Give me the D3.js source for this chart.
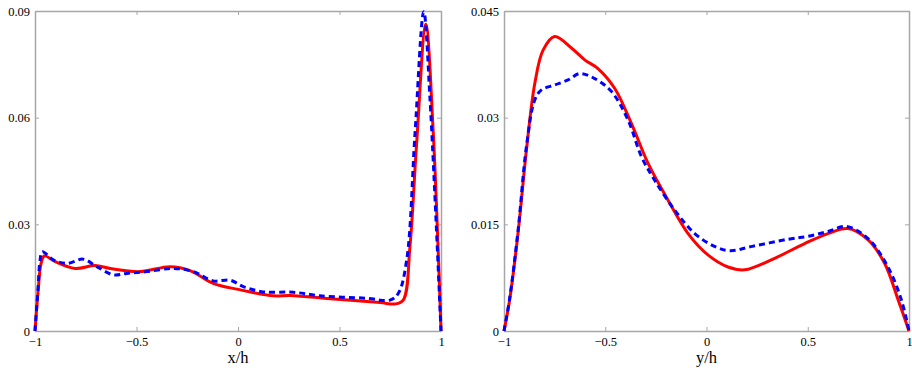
<!DOCTYPE html>
<html>
<head>
<meta charset="utf-8">
<script src="https://cdn.jsdelivr.net/npm/d3@7"></script>
<style>
  body { margin: 0; background: #fff; }
</style>
</head>
<body>
<div id="chart"></div>
<script>
// left panel: profile along x/h
const xTicks = [-1, -0.5, 0, 0.5, 1];
const leftYTicks = [0, 0.03, 0.06, 0.09];
const rightYTicks = [0, 0.015, 0.03, 0.045];

const leftRedX = [-1, -0.985, -0.97, -0.954, -0.9, -0.803, -0.704, -0.63, -0.483, -0.335, -0.236, -0.122, 0, 0.174, 0.256, 0.47, 0.7, 0.773, 0.814, 0.847, 0.88, 0.925, 0.962, 1];
const leftRedY = [0, 0.011, 0.019, 0.0211, 0.0195, 0.0176, 0.0184, 0.0176, 0.0167, 0.0181, 0.017, 0.0134, 0.0117, 0.0099, 0.01, 0.009, 0.008, 0.0076, 0.0087, 0.0237, 0.0528, 0.0863, 0.0556, 0];

const leftBlueX = [-1, -0.985, -0.975, -0.964, -0.91, -0.844, -0.762, -0.696, -0.614, -0.548, -0.45, -0.319, -0.22, -0.122, -0.039, 0.026, 0.125, 0.272, 0.404, 0.634, 0.749, 0.79, 0.831, 0.872, 0.915, 0.946, 1];
const leftBlueY = [0, 0.012, 0.02, 0.0223, 0.02, 0.019, 0.0202, 0.0181, 0.0158, 0.0162, 0.0167, 0.0176, 0.0167, 0.0141, 0.0143, 0.0125, 0.011, 0.0109, 0.0099, 0.0092, 0.0087, 0.0106, 0.02, 0.0556, 0.0898, 0.065, 0];

// right panel: profile along y/h
const rightRedX = [-1, -0.972, -0.931, -0.889, -0.848, -0.807, -0.75, -0.667, -0.6, -0.536, -0.453, -0.371, -0.289, -0.19, -0.091, 0.007, 0.106, 0.189, 0.32, 0.485, 0.6, 0.699, 0.798, 0.88, 0.946, 1];
const rightRedY = [0, 0.0044, 0.0137, 0.0255, 0.0348, 0.0395, 0.0414, 0.0398, 0.0381, 0.0369, 0.0341, 0.0292, 0.0236, 0.0184, 0.0137, 0.0107, 0.009, 0.0086, 0.01, 0.0123, 0.0137, 0.0144, 0.0128, 0.0095, 0.0044, 0];

const rightBlueX = [-1, -0.972, -0.931, -0.889, -0.848, -0.815, -0.75, -0.684, -0.626, -0.552, -0.47, -0.388, -0.321, -0.256, -0.157, -0.058, 0.04, 0.115, 0.226, 0.402, 0.5, 0.6, 0.69, 0.798, 0.896, 0.962, 1];
const rightBlueY = [0, 0.0046, 0.014, 0.026, 0.0325, 0.0339, 0.0346, 0.0353, 0.0362, 0.0355, 0.0337, 0.0297, 0.0245, 0.0212, 0.017, 0.0137, 0.0119, 0.0113, 0.0119, 0.0129, 0.0133, 0.014, 0.0147, 0.013, 0.009, 0.0044, 0];

const width = 912;
const height = 368;
const serif = "'Liberation Serif', 'Times New Roman', serif";

const svg = d3.select("#chart")
  .append("svg")
  .attr("width", width)
  .attr("height", height);

const fmt = (d) => (d < 0 ? "\u2212" + Math.abs(d) : String(d));

function drawPanel(left, right, yMax, yTicks, series, label) {
  const top = 11;
  const bottom = 331;

  const x = d3.scaleLinear().domain([-1, 1]).range([left, right]);
  const y = d3.scaleLinear().domain([0, yMax]).range([bottom, top]);

  const g = svg.append("g");

  // box with inward ticks on all four sides
  const axes = [
    { ax: d3.axisBottom(x), pos: `translate(0,${bottom})`, labels: true },
    { ax: d3.axisTop(x), pos: `translate(0,${top})`, labels: false },
    { ax: d3.axisLeft(y), pos: `translate(${left},0)`, labels: true },
    { ax: d3.axisRight(y), pos: `translate(${right},0)`, labels: false }
  ];
  axes.forEach((a, i) => {
    const isX = i < 2;
    a.ax.tickValues(isX ? xTicks : yTicks)
      .tickSizeInner(-4)
      .tickSizeOuter(0)
      .tickPadding(isX ? 6 : 5)
      .tickFormat(a.labels ? fmt : () => "");
    const ga = g.append("g").attr("transform", a.pos).call(a.ax)
      .attr("font-family", serif)
      .attr("font-size", 12);
    ga.select(".domain").attr("stroke", "#a6a6a6").attr("stroke-width", 1.5);
    ga.selectAll(".tick line").attr("stroke", "#a6a6a6").attr("stroke-width", 1);
    ga.selectAll("text")
      .style("font-family", serif)
      .style("font-size", "12.5px")
      .attr("fill", "#000");
  });

  const line = d3.line()
    .x((d) => x(d[0]))
    .y((d) => y(d[1]))
    .curve(d3.curveCatmullRom.alpha(0.5));

  series.forEach((s) => {
    g.append("path")
      .datum(d3.zip(s.xs, s.ys))
      .attr("fill", "none")
      .attr("stroke", s.color)
      .attr("stroke-width", 3)
      .attr("stroke-linejoin", "round")
      .attr("stroke-dasharray", s.dash)
      .attr("d", line);
  });

  g.append("text")
    .attr("x", (left + right) / 2)
    .attr("y", 363)
    .attr("text-anchor", "middle")
    .style("font-family", serif)
    .style("font-size", "16.5px")
    .text(label);
}

drawPanel(35, 441, 0.09, leftYTicks, [
  { xs: leftRedX, ys: leftRedY, color: "#ff0000", dash: null },
  { xs: leftBlueX, ys: leftBlueY, color: "#0000ff", dash: "6,4" }
], "x/h");

drawPanel(504, 909, 0.045, rightYTicks, [
  { xs: rightRedX, ys: rightRedY, color: "#ff0000", dash: null },
  { xs: rightBlueX, ys: rightBlueY, color: "#0000ff", dash: "6,4" }
], "y/h");
</script>
</body>
</html>
